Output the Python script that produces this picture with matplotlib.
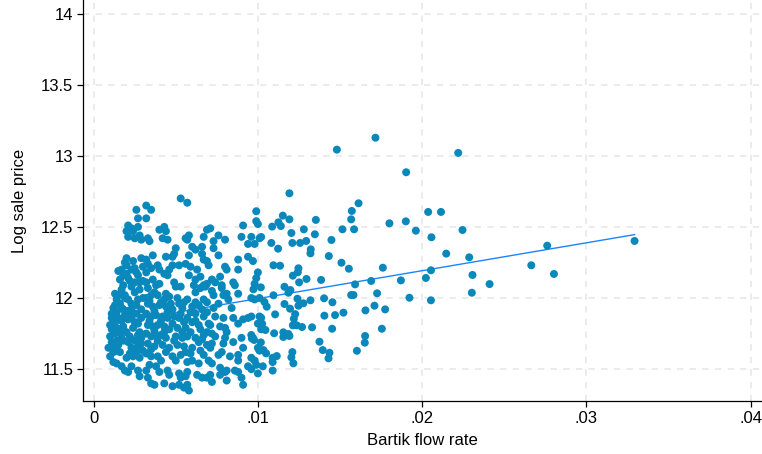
import numpy as np
import matplotlib.pyplot as plt

plt.rcParams['font.family'] = ['Liberation Sans', 'DejaVu Sans']

# dense part of the cloud (flow rate below ~.01)
core_x = [
    0.0026, 0.0027, 0.0021, 0.0023, 0.0020, 0.0021, 0.0027, 0.0028, 0.0025, 0.0029,
    0.0024, 0.0020, 0.0024, 0.0025, 0.0029, 0.0030, 0.0017, 0.0018, 0.0016, 0.0020,
    0.0021, 0.0027, 0.0028, 0.0025, 0.0018, 0.0017, 0.0019, 0.0023, 0.0025, 0.0028,
    0.0015, 0.0014, 0.0016, 0.0021, 0.0023, 0.0027, 0.0030, 0.0012, 0.0011, 0.0014,
    0.0018, 0.0019, 0.0023, 0.0026, 0.0029, 0.0011, 0.0013, 0.0015, 0.0021, 0.0025,
    0.0029, 0.0010, 0.0011, 0.0014, 0.0018, 0.0020, 0.0024, 0.0028, 0.0010, 0.0011,
    0.0014, 0.0017, 0.0021, 0.0025, 0.0029, 0.0009, 0.0012, 0.0015, 0.0014, 0.0023,
    0.0027, 0.0030, 0.0010, 0.0012, 0.0020, 0.0024, 0.0028, 0.0014, 0.0017, 0.0019,
    0.0023, 0.0021, 0.0027, 0.0028,
    0.0053, 0.0057, 0.0032, 0.0035, 0.0032, 0.0040, 0.0043, 0.0044, 0.0056, 0.0058,
    0.0057, 0.0033, 0.0034, 0.0042, 0.0045, 0.0050, 0.0067, 0.0066, 0.0060, 0.0062,
    0.0036, 0.0032, 0.0049, 0.0048, 0.0044, 0.0058, 0.0066, 0.0067, 0.0033, 0.0035,
    0.0032, 0.0039, 0.0040, 0.0048, 0.0046, 0.0052, 0.0056, 0.0059, 0.0058, 0.0043,
    0.0045, 0.0063, 0.0065, 0.0062, 0.0036, 0.0038, 0.0040, 0.0049, 0.0050, 0.0053,
    0.0032, 0.0033, 0.0061, 0.0065, 0.0062, 0.0067, 0.0037, 0.0039, 0.0035, 0.0044,
    0.0046, 0.0043, 0.0051, 0.0052, 0.0057, 0.0062, 0.0064, 0.0067, 0.0032, 0.0033,
    0.0036, 0.0040, 0.0044, 0.0048, 0.0054, 0.0059, 0.0062, 0.0066, 0.0067, 0.0032,
    0.0035, 0.0038, 0.0042, 0.0045, 0.0049, 0.0052, 0.0055, 0.0060, 0.0064, 0.0033,
    0.0036, 0.0039, 0.0043, 0.0046, 0.0051, 0.0056, 0.0059, 0.0065, 0.0067, 0.0032,
    0.0035, 0.0038, 0.0041, 0.0044, 0.0050, 0.0054, 0.0057, 0.0062, 0.0064, 0.0033,
    0.0037, 0.0042, 0.0046, 0.0051, 0.0055, 0.0056, 0.0060, 0.0059, 0.0065, 0.0067,
    0.0032, 0.0035, 0.0039, 0.0041, 0.0048, 0.0050, 0.0057, 0.0060, 0.0064, 0.0034,
    0.0032, 0.0038, 0.0040, 0.0045, 0.0046, 0.0052, 0.0053, 0.0057, 0.0056, 0.0063,
    0.0066, 0.0035, 0.0037, 0.0043, 0.0048, 0.0052, 0.0055, 0.0057, 0.0058, 0.0033,
    0.0099, 0.0099, 0.0100, 0.0091, 0.0071, 0.0069, 0.0076, 0.0073, 0.0080, 0.0090,
    0.0096, 0.0094, 0.0098, 0.0101, 0.0073, 0.0076, 0.0088, 0.0094, 0.0097, 0.0069,
    0.0070, 0.0080, 0.0081, 0.0100, 0.0099, 0.0088, 0.0077, 0.0074, 0.0072, 0.0085,
    0.0086, 0.0098, 0.0069, 0.0068, 0.0078, 0.0078, 0.0072, 0.0073, 0.0079, 0.0081,
    0.0082, 0.0088, 0.0096, 0.0098, 0.0101, 0.0069, 0.0076, 0.0073, 0.0084, 0.0069,
    0.0074, 0.0079, 0.0091, 0.0094, 0.0096, 0.0101, 0.0085, 0.0070, 0.0071, 0.0077,
    0.0080, 0.0081, 0.0088, 0.0100, 0.0102, 0.0069, 0.0072, 0.0074, 0.0096, 0.0097,
    0.0090, 0.0080, 0.0079, 0.0072, 0.0069, 0.0071, 0.0085, 0.0091, 0.0100, 0.0101,
    0.0078, 0.0076, 0.0083, 0.0088, 0.0088, 0.0096, 0.0098, 0.0070, 0.0072, 0.0094,
    0.0096, 0.0077, 0.0080, 0.0081, 0.0086, 0.0088, 0.0099, 0.0100, 0.0071, 0.0069,
    0.0072, 0.0077, 0.0090, 0.0081, 0.0091,
    # filling the solid blob at low flow rates
    0.0013, 0.0017, 0.0021, 0.0026, 0.0012, 0.0017, 0.0023, 0.0027, 0.0013, 0.0016,
    0.0022, 0.0027, 0.0012, 0.0018, 0.0023, 0.0029, 0.0016, 0.0022, 0.0026, 0.0019,
    0.0013, 0.0020, 0.0023, 0.0026, 0.0022, 0.0030, 0.0019, 0.0015,
    0.0034, 0.0041, 0.0047, 0.0055, 0.0060, 0.0037, 0.0045, 0.0053, 0.0057, 0.0034,
    0.0041, 0.0048, 0.0062, 0.0037, 0.0043, 0.0054, 0.0066, 0.0039, 0.0049, 0.0035,
    0.0044, 0.0053,
]
core_y = [
    12.62, 12.56, 12.51, 12.49, 12.47, 12.43, 12.50, 12.44, 12.42, 12.41,
    12.47, 12.28, 12.26, 12.21, 12.28, 12.22, 12.20, 12.16, 12.13, 12.17,
    12.14, 12.16, 12.11, 12.11, 12.09, 12.06, 12.02, 12.08, 12.04, 12.06,
    12.02, 11.99, 11.96, 11.99, 11.96, 11.99, 12.00, 11.93, 11.89, 11.90,
    11.92, 11.88, 11.92, 11.89, 11.92, 11.86, 11.83, 11.86, 11.85, 11.83,
    11.86, 11.81, 11.78, 11.79, 11.80, 11.76, 11.79, 11.76, 11.73, 11.69,
    11.70, 11.72, 11.69, 11.70, 11.72, 11.65, 11.62, 11.67, 11.63, 11.65,
    11.66, 11.63, 11.59, 11.55, 11.58, 11.59, 11.58, 11.54, 11.52, 11.49,
    11.52, 11.48, 11.49, 11.45,
    12.70, 12.67, 12.65, 12.62, 12.56, 12.48, 12.50, 12.47, 12.42, 12.44,
    12.41, 12.42, 12.40, 12.42, 12.41, 12.35, 12.43, 12.36, 12.36, 12.34,
    12.30, 12.27, 12.31, 12.29, 12.29, 12.30, 12.31, 12.27, 12.24, 12.21,
    12.18, 12.23, 12.20, 12.23, 12.20, 12.23, 12.24, 12.22, 12.16, 12.17,
    12.16, 12.20, 12.15, 12.13, 12.13, 12.09, 12.10, 12.11, 12.08, 12.08,
    12.11, 12.07, 12.09, 12.07, 12.04, 12.09, 12.04, 12.02, 12.02, 12.03,
    12.01, 11.99, 12.00, 11.96, 11.99, 11.97, 11.95, 11.99, 12.00, 11.96,
    11.94, 11.95, 11.94, 11.92, 11.93, 11.90, 11.89, 11.92, 11.87, 11.89,
    11.87, 11.88, 11.87, 11.86, 11.87, 11.86, 11.83, 11.83, 11.81, 11.81,
    11.80, 11.81, 11.80, 11.78, 11.79, 11.79, 11.76, 11.78, 11.74, 11.75,
    11.73, 11.74, 11.74, 11.72, 11.73, 11.72, 11.73, 11.72, 11.69, 11.68,
    11.66, 11.67, 11.65, 11.67, 11.66, 11.62, 11.65, 11.61, 11.63, 11.60,
    11.61, 11.59, 11.59, 11.56, 11.59, 11.56, 11.55, 11.56, 11.54, 11.53,
    11.49, 11.52, 11.48, 11.49, 11.46, 11.47, 11.44, 11.48, 11.45, 11.46,
    11.44, 11.40, 11.39, 11.40, 11.38, 11.39, 11.37, 11.39, 11.35, 11.44,
    12.61, 12.54, 12.52, 12.51, 12.49, 12.48, 12.44, 12.40, 12.41, 12.43,
    12.43, 12.38, 12.38, 12.42, 12.35, 12.30, 12.27, 12.29, 12.26, 12.26,
    12.23, 12.22, 12.20, 12.18, 12.14, 12.20, 12.15, 12.11, 12.13, 12.11,
    12.09, 12.10, 12.10, 12.08, 12.09, 12.07, 12.05, 12.02, 12.02, 12.03,
    11.99, 12.03, 12.00, 11.99, 12.00, 11.97, 11.96, 11.93, 11.93, 11.90,
    11.87, 11.86, 11.85, 11.86, 11.87, 11.87, 11.86, 11.82, 11.81, 11.80,
    11.79, 11.76, 11.82, 11.82, 11.78, 11.76, 11.75, 11.73, 11.74, 11.72,
    11.72, 11.72, 11.68, 11.68, 11.67, 11.65, 11.69, 11.65, 11.65, 11.63,
    11.62, 11.60, 11.59, 11.60, 11.56, 11.58, 11.56, 11.56, 11.54, 11.52,
    11.50, 11.51, 11.48, 11.49, 11.49, 11.48, 11.53, 11.47, 11.46, 11.44,
    11.41, 11.46, 11.44, 11.42, 11.39,
    11.95, 11.93, 11.91, 11.95, 11.84, 11.84, 11.87, 11.82, 11.75, 11.76,
    11.73, 11.74, 11.67, 11.70, 11.71, 11.68, 11.62, 11.61, 11.62, 12.00,
    12.03, 12.23, 12.20, 12.18, 12.12, 12.12, 12.25, 12.19,
    11.98, 11.97, 11.96, 11.97, 11.94, 11.91, 11.90, 11.89, 11.86, 11.84,
    11.84, 11.82, 11.84, 11.77, 11.76, 11.76, 11.71, 11.70, 11.70, 11.64,
    11.62, 11.60,
]

# sparser part (flow rate above ~.01)
spread_x = [
    0.01716, 0.01481, 0.01903, 0.01192, 0.01613, 0.01572, 0.02037, 0.02115, 0.01152, 0.01192,
    0.01353, 0.01568, 0.01125, 0.01901, 0.01801, 0.01087, 0.01140, 0.01280, 0.01515, 0.01586,
    0.01962, 0.01204, 0.01347, 0.01020, 0.02057, 0.01448, 0.01082, 0.01210, 0.01257, 0.01294,
    0.01123, 0.01322, 0.01320, 0.01432, 0.01509, 0.01761, 0.01554, 0.01095, 0.01135, 0.01247,
    0.01213, 0.01243, 0.01296, 0.01385, 0.01251, 0.01690, 0.01871, 0.02023, 0.02054, 0.01592,
    0.01162, 0.01018, 0.01198, 0.01186, 0.01095, 0.01568, 0.01582, 0.01726, 0.01923, 0.02054,
    0.00973, 0.01241, 0.01320, 0.01403, 0.01454, 0.01040, 0.01054, 0.01162, 0.01196, 0.01277,
    0.01247, 0.01710, 0.01655, 0.01775, 0.01521, 0.01105, 0.01227, 0.01405, 0.01470, 0.01219,
    0.01020, 0.01213, 0.01237, 0.01269, 0.01330, 0.01046, 0.01026, 0.01452, 0.01755, 0.01099,
    0.01155, 0.01186, 0.01192, 0.01155, 0.01653, 0.01651, 0.01375, 0.00963, 0.00977, 0.01018,
    0.01007, 0.01034, 0.01395, 0.01436, 0.01603, 0.01050, 0.01210, 0.01204, 0.01115, 0.01430,
    0.01216, 0.01090, 0.01090, 0.01030, 0.01090,
    0.02220, 0.02246, 0.02147, 0.02287, 0.02762, 0.02665, 0.02307, 0.02803, 0.02411, 0.02303,
    0.03294,
]
spread_y = [
    13.127, 13.043, 12.884, 12.736, 12.666, 12.612, 12.605, 12.605, 12.579, 12.553,
    12.549, 12.553, 12.532, 12.539, 12.525, 12.502, 12.506, 12.483, 12.483, 12.483,
    12.473, 12.457, 12.448, 12.429, 12.427, 12.408, 12.387, 12.387, 12.387, 12.401,
    12.347, 12.342, 12.314, 12.295, 12.248, 12.213, 12.206, 12.230, 12.227, 12.209,
    12.157, 12.181, 12.134, 12.127, 12.110, 12.120, 12.124, 12.141, 12.195, 12.096,
    12.079, 12.075, 12.056, 12.037, 12.019, 12.021, 12.021, 12.033, 12.002, 11.984,
    12.061, 11.995, 11.984, 11.998, 11.970, 11.972, 11.939, 11.958, 11.925, 11.963,
    11.946, 11.946, 11.913, 11.920, 11.897, 11.885, 11.887, 11.876, 11.880, 11.854,
    11.861, 11.808, 11.808, 11.796, 11.794, 11.775, 11.819, 11.784, 11.784, 11.752,
    11.759, 11.747, 11.733, 11.726, 11.733, 11.686, 11.693, 11.716, 11.705, 11.688,
    11.639, 11.634, 11.634, 11.615, 11.629, 11.611, 11.620, 11.583, 11.592, 11.576,
    11.541, 11.580, 11.550, 11.520, 11.490,
    13.020, 12.478, 12.312, 12.286, 12.368, 12.230, 12.162, 12.169, 12.098, 12.037,
    12.401,
]

# fitted line
fit_intercept = 11.80
fit_slope = 19.6

x_ticks = [0, 0.01, 0.02, 0.03, 0.04]
x_labels = ['0', '.01', '.02', '.03', '.04']
y_ticks = [11.5, 12, 12.5, 13, 13.5, 14]
y_labels = ['11.5', '12', '12.5', '13', '13.5', '14']

flow = np.array(core_x + spread_x)
price = np.array(core_y + spread_y)

fig = plt.figure(figsize=(7.62, 4.54), dpi=100)
ax = fig.add_axes([83 / 762, 53 / 454, 679 / 762, 401 / 454])

ax.scatter(flow, price, s=33, color='#0a88bc', edgecolors='none', zorder=3)

# the fit line sits under the dots, as in the original
fx = np.array([flow.min(), flow.max()])
ax.plot(fx, fit_intercept + fit_slope * fx, color='#1a85ff', lw=1.0, zorder=2)

ax.set_xlim(-0.00065, 0.0407)
ax.set_ylim(11.276, 14.095)
ax.set_xticks(x_ticks)
ax.set_xticklabels(x_labels)
ax.set_yticks(y_ticks)
ax.set_yticklabels(y_labels)

ax.grid(True, color='#e9e9e9', lw=1.3, ls=(0, (3.5, 3.5)), zorder=0)
ax.set_axisbelow(True)

for s in ['top', 'right']:
    ax.spines[s].set_visible(False)
for s in ['left', 'bottom']:
    ax.spines[s].set_linewidth(0.9)

ax.tick_params(axis='both', length=4, width=0.9, labelsize=12, pad=3)
ax.set_xlabel('Bartik flow rate', fontsize=12, labelpad=5)
ax.set_ylabel('Log sale price', fontsize=12, labelpad=10)

fig.savefig('out.png', dpi=100)
